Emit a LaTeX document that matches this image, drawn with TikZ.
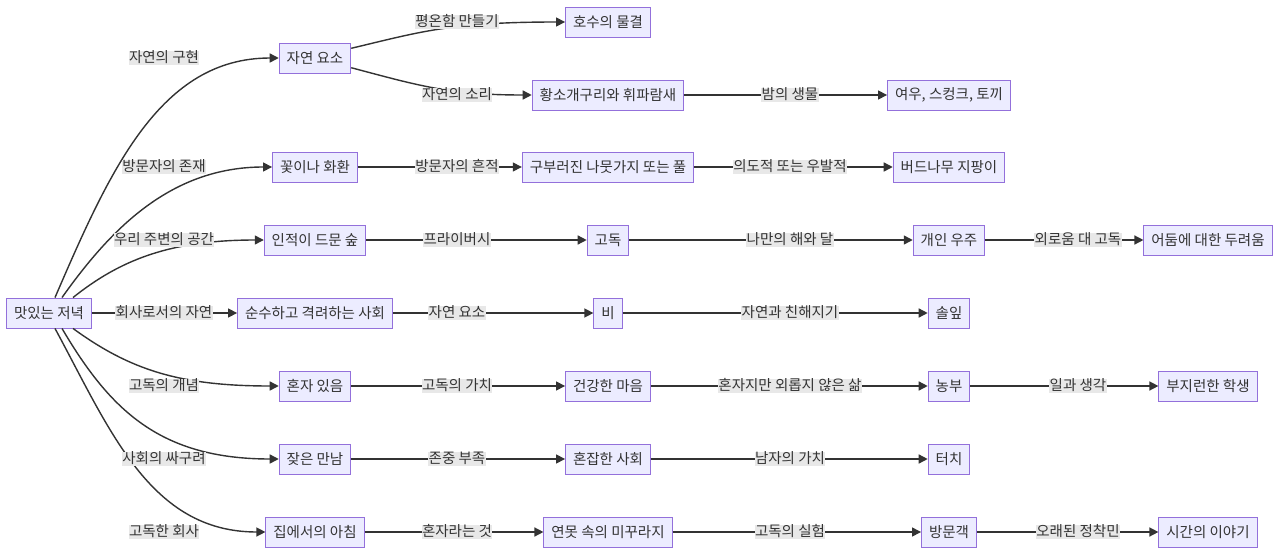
\documentclass[tikz,border=0pt]{standalone}
\usepackage{fontspec}
\setmainfont{Noto Sans CJK KR}
\usetikzlibrary{arrows.meta}
\definecolor{boxfill}{HTML}{ECECFF}
\definecolor{boxline}{HTML}{9370DB}
\definecolor{ink}{HTML}{333333}
\definecolor{lblfill}{HTML}{E8E8E8}
\begin{document}
\begin{tikzpicture}[x=1pt, y=-1pt,
    box/.style={draw=boxline, fill=boxfill, line width=0.9pt, text=ink,
        inner xsep=7.5pt, inner ysep=0pt, minimum height=30pt,
        font=\fontsize{14.5}{17}\selectfont},
    lbl/.style={fill=lblfill, text=ink, inner xsep=0.5pt, inner ysep=0.5pt,
        text height=11pt, text depth=2.5pt, font=\fontsize{14.5}{17}\selectfont},
    edge/.style={draw=ink, line width=1.4pt, -{Triangle[length=9pt,width=9pt]}}]
    \useasboundingbox (0,0) rectangle (1280,554);

    % Root
    \node[box] (dinner) at (49,313) {맛있는 저녁};

    % First column
    \node[box] (nat) at (315,58) {자연 요소};
    \node[box] (flower) at (315,167) {꽃이나 화환};
    \node[box] (forest) at (315,240) {인적이 드문 숲};
    \node[box] (pure) at (315,313) {순수하고 격려하는 사회};
    \node[box] (alone) at (315,386) {혼자 있음};
    \node[box] (meet) at (315,459) {잦은 만남};
    \node[box] (morning) at (315,532) {집에서의 아침};

    % Second column
    \node[box] (lake) at (608,22) {호수의 물결};
    \node[box] (frog) at (608,95) {황소개구리와 휘파람새};
    \node[box] (twig) at (608,167) {구부러진 나뭇가지 또는 풀};
    \node[box] (solitude) at (608,240) {고독};
    \node[box] (rain) at (608,313) {비};
    \node[box] (mind) at (608,386) {건강한 마음};
    \node[box] (crowd) at (608,459) {혼잡한 사회};
    \node[box] (loach) at (608,532) {연못 속의 미꾸라지};

    % Third column
    \node[box] (fox) at (949,95) {여우, 스컹크, 토끼};
    \node[box] (stick) at (949,167) {버드나무 지팡이};
    \node[box] (cosmos) at (949,240) {개인 우주};
    \node[box] (needle) at (949,313) {솔잎};
    \node[box] (farmer) at (949,386) {농부};
    \node[box] (touch) at (949,459) {터치};
    \node[box] (guest) at (949,532) {방문객};

    % Fourth column
    \node[box] (dark) at (1208,240) {어둠에 대한 두려움};
    \node[box] (student) at (1208,386) {부지런한 학생};
    \node[box] (story) at (1208,532) {시간의 이야기};

    % Edges from the root
    \draw[edge] ([xshift=6pt]dinner.north) .. controls (110,170) and (160,58) .. (nat.west);
    \draw[edge] ([xshift=13pt]dinner.north) .. controls (110,230) and (170,167) .. (flower.west);
    \draw[edge] ([xshift=24pt]dinner.north) .. controls (120,260) and (170,240) .. (forest.west);
    \draw[edge] (dinner) -- (pure);
    \draw[edge] ([xshift=24pt]dinner.south) .. controls (130,370) and (180,386) .. (alone.west);
    \draw[edge] ([xshift=13pt]dinner.south) .. controls (110,410) and (160,459) .. (meet.west);
    \draw[edge] ([xshift=6pt]dinner.south) .. controls (110,430) and (150,532) .. (morning.west);

    % Edges to the second column
    \draw[edge] (nat.15) .. controls (420,32) and (450,22) .. (lake.west);
    \draw[edge] (nat.-15) .. controls (420,86) and (450,95) .. (frog.west);
    \draw[edge] (flower) -- (twig);
    \draw[edge] (forest) -- (solitude);
    \draw[edge] (pure) -- (rain);
    \draw[edge] (alone) -- (mind);
    \draw[edge] (meet) -- (crowd);
    \draw[edge] (morning) -- (loach);

    % Edges to the third and fourth columns
    \draw[edge] (frog) -- (fox);
    \draw[edge] (twig) -- (stick);
    \draw[edge] (solitude) -- (cosmos);
    \draw[edge] (rain) -- (needle);
    \draw[edge] (mind) -- (farmer);
    \draw[edge] (crowd) -- (touch);
    \draw[edge] (loach) -- (guest);
    \draw[edge] (cosmos) -- (dark);
    \draw[edge] (farmer) -- (student);
    \draw[edge] (guest) -- (story);

    % Edge labels
    \node[lbl] (l-embody) at (164,58) {자연의 구현};
    \node[lbl] (l-visitor) at (164,167) {방문자의 존재};
    \node[lbl] (l-space) at (164,240) {우리 주변의 공간};
    \node[lbl] (l-company) at (164,313) {회사로서의 자연};
    \node[lbl] (l-concept) at (164,386) {고독의 개념};
    \node[lbl] (l-cheap) at (164,459) {사회의 싸구려};
    \node[lbl] (l-lonely) at (164,532) {고독한 회사};

    \node[lbl] (l-calm) at (457,22) {평온함 만들기};
    \node[lbl] (l-sound) at (457,95) {자연의 소리};
    \node[lbl] (l-trace) at (457,167) {방문자의 흔적};
    \node[lbl] (l-privacy) at (457,240) {프라이버시};
    \node[lbl] (l-element) at (457,313) {자연 요소};
    \node[lbl] (l-value) at (457,386) {고독의 가치};
    \node[lbl] (l-respect) at (457,459) {존중 부족};
    \node[lbl] (l-being) at (457,532) {혼자라는 것};

    \node[lbl] (l-night) at (790,95) {밤의 생물};
    \node[lbl] (l-chance) at (790,167) {의도적 또는 우발적};
    \node[lbl] (l-sunmoon) at (790,240) {나만의 해와 달};
    \node[lbl] (l-friend) at (790,313) {자연과 친해지기};
    \node[lbl] (l-notlonely) at (790,386) {혼자지만 외롭지 않은 삶};
    \node[lbl] (l-man) at (790,459) {남자의 가치};
    \node[lbl] (l-test) at (790,532) {고독의 실험};

    \node[lbl] (l-versus) at (1078,240) {외로움 대 고독};
    \node[lbl] (l-work) at (1078,386) {일과 생각};
    \node[lbl] (l-settler) at (1078,532) {오래된 정착민};
\end{tikzpicture}
\end{document}
